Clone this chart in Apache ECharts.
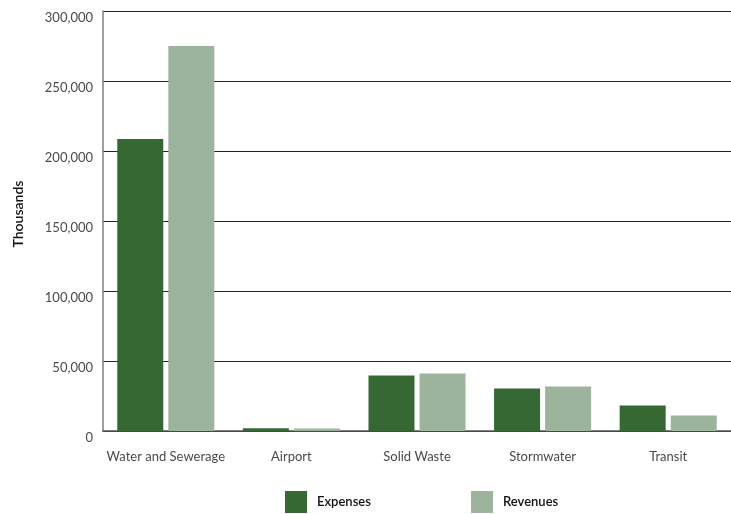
<!DOCTYPE html>
<html>
<head>
<meta charset="utf-8">
<script src="https://cdn.jsdelivr.net/npm/echarts@6/dist/echarts.min.js"></script>
<style>
  html, body { margin: 0; padding: 0; background: #fff; }
  #chart { width: 731px; height: 514px; }
</style>
</head>
<body>
<div id="chart"></div>
<script>
// Enterprise funds, in thousands of dollars
const categories = ['Water and Sewerage', 'Airport', 'Solid Waste', 'Stormwater', 'Transit'];
const expenses = [208500, 2000, 39600, 30400, 18200];
const revenues = [275000, 1800, 41000, 31800, 11100];
const yTicks = { min: 0, max: 300000, interval: 50000 };

const FONT = 'Lato, "Open Sans", sans-serif';
const DARK_GREEN = '#366834';
const LIGHT_GREEN = '#9cb49c';

const chart = echarts.init(document.getElementById('chart'), null, { renderer: 'canvas' });

const legendItem = (name, left) => ({
  data: [name], left: left, top: 491, padding: 0,
  itemWidth: 22, itemHeight: 22, itemGap: 10,
  icon: 'rect',
  textStyle: { fontFamily: FONT, fontSize: 13, fontWeight: 600, color: '#111', padding: [5, 0, 0, 5] }
});

chart.setOption({
  animation: false,
  textStyle: { fontFamily: FONT },
  grid: { left: 103, right: 0, top: 11, bottom: 83, containLabel: false, outerBoundsMode: 'none' },
  legend: [legendItem('Expenses', 285), legendItem('Revenues', 471)],
  xAxis: {
    type: 'category',
    data: categories,
    axisLine: { show: true, lineStyle: { color: '#555', width: 1.5 } },
    axisTick: { show: false },
    axisLabel: { interval: 0, fontFamily: FONT, fontSize: 13, color: '#4a4a4a', margin: 19 }
  },
  yAxis: {
    type: 'value',
    min: yTicks.min,
    max: yTicks.max,
    interval: yTicks.interval,
    name: 'Thousands',
    nameLocation: 'middle',
    nameGap: 78,
    nameRotate: 90,
    nameMoveOverlap: false,
    nameTextStyle: { fontFamily: FONT, fontSize: 14, fontWeight: 600, color: '#111', padding: [0, 0, 0, 14] },
    axisLine: { show: true, lineStyle: { color: '#808080', width: 1.5 } },
    axisTick: { show: false },
    splitLine: { show: true, lineStyle: { color: '#222', width: 1 } },
    axisLabel: {
      fontFamily: FONT, fontSize: 13, color: '#4a4a4a', margin: 10,
      verticalAlign: 'top',
      formatter: v => v.toLocaleString('en-US')
    }
  },
  series: [
    {
      name: 'Expenses', type: 'bar', data: expenses,
      barWidth: 46, barGap: '11%',
      itemStyle: { color: DARK_GREEN }
    },
    {
      name: 'Revenues', type: 'bar', data: revenues,
      barWidth: 46, barGap: '11%',
      itemStyle: { color: LIGHT_GREEN }
    }
  ]
});
</script>
</body>
</html>
